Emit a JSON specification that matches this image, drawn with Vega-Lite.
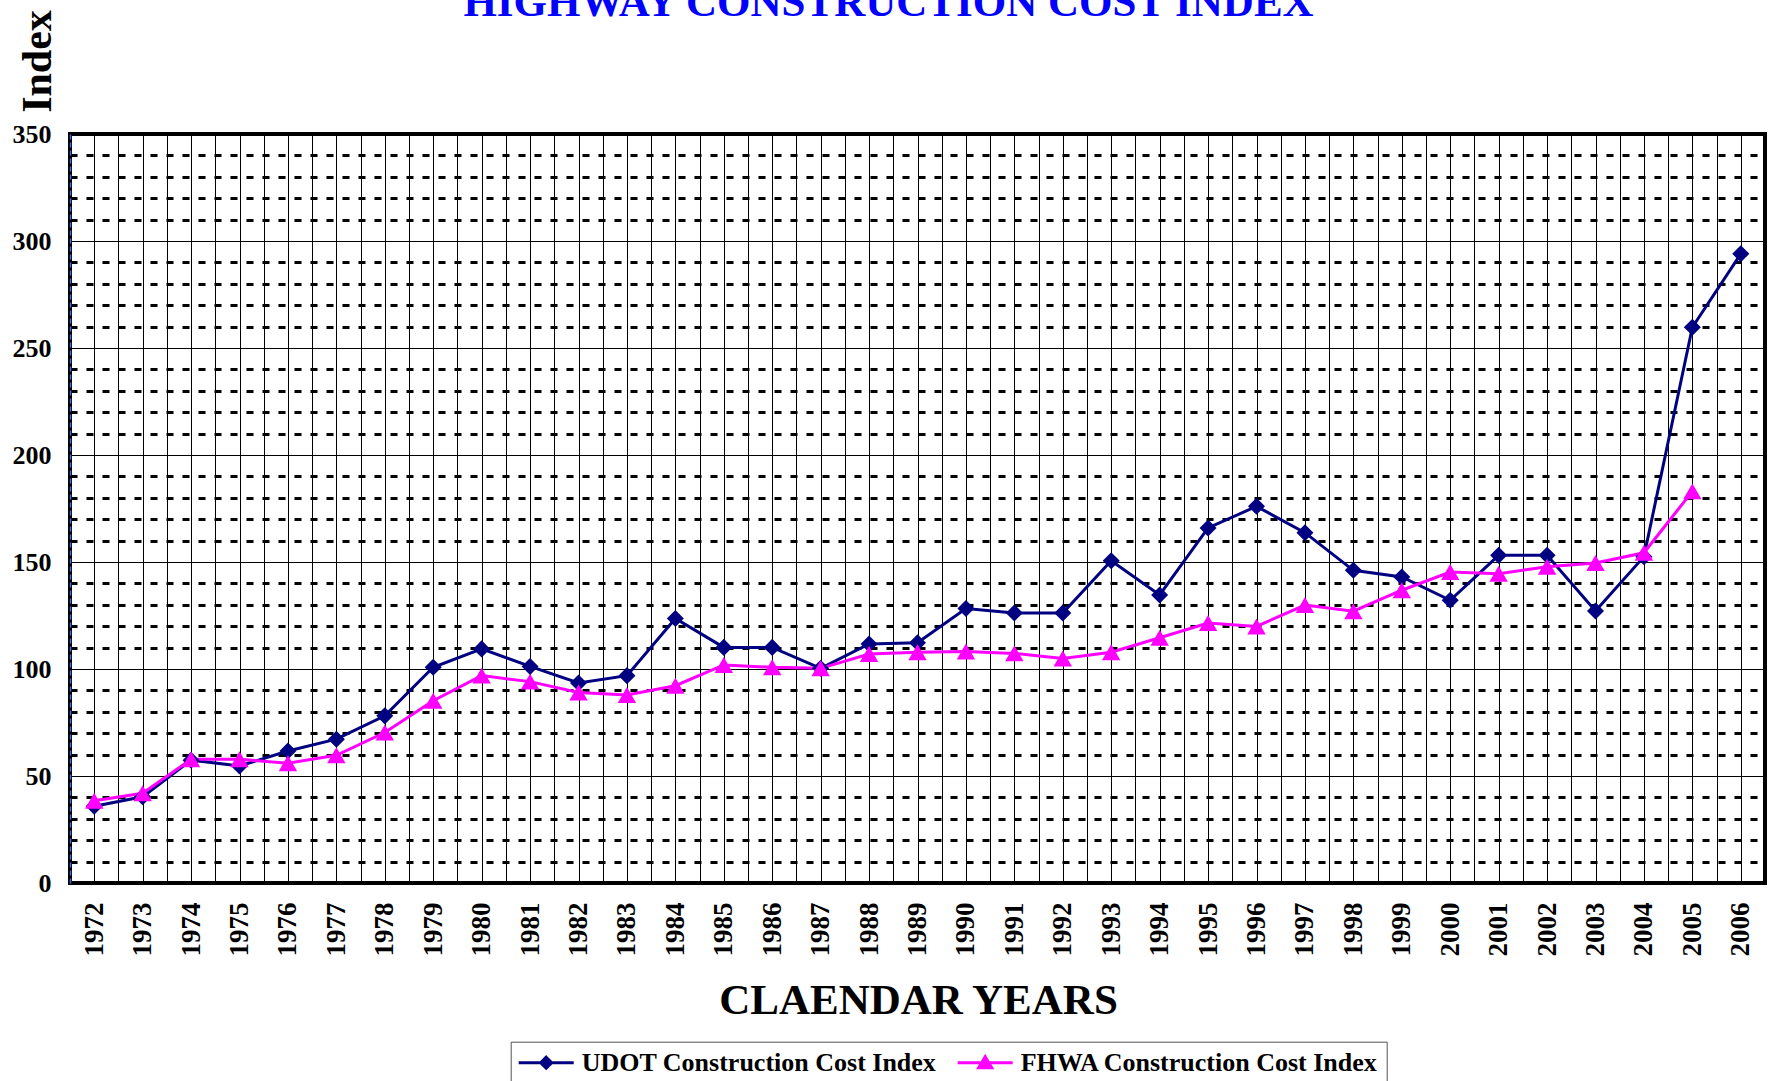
{
  "$schema": "https://vega.github.io/schema/vega-lite/v6.json",
  "width": 1695,
  "height": 749,
  "autosize": {"type": "none"},
  "padding": {"left": 70, "top": 134, "right": 8, "bottom": 198},
  "background": "white",
  "config": {
    "view": {"stroke": "black", "strokeWidth": 4},
    "font": "Liberation Serif",
    "axis": {"labelFont": "Liberation Serif", "titleFont": "Liberation Serif"},
    "legend": {
      "labelFont": "Liberation Serif",
      "orient": "none",
      "legendX": 440.7,
      "legendY": 907.7,
      "direction": "horizontal",
      "columns": 2,
      "labelFontSize": 26,
      "labelFontWeight": "bold",
      "labelColor": "black",
      "labelLimit": 600,
      "labelOffset": 37,
      "symbolSize": 400,
      "symbolStrokeWidth": 3,
      "symbolOpacity": 1,
      "columnPadding": 15,
      "padding": 8,
      "strokeColor": "#555555",
      "fillColor": "white"
    }
  },
  "data": {
    "values": [
      {"year": 1972, "series": "UDOT Construction Cost Index", "value": 35.9},
      {"year": 1973, "series": "UDOT Construction Cost Index", "value": 40.3},
      {"year": 1974, "series": "UDOT Construction Cost Index", "value": 57.4},
      {"year": 1975, "series": "UDOT Construction Cost Index", "value": 54.7},
      {"year": 1976, "series": "UDOT Construction Cost Index", "value": 61.7},
      {"year": 1977, "series": "UDOT Construction Cost Index", "value": 67.2},
      {"year": 1978, "series": "UDOT Construction Cost Index", "value": 78.1},
      {"year": 1979, "series": "UDOT Construction Cost Index", "value": 100.8},
      {"year": 1980, "series": "UDOT Construction Cost Index", "value": 109.4},
      {"year": 1981, "series": "UDOT Construction Cost Index", "value": 101.2},
      {"year": 1982, "series": "UDOT Construction Cost Index", "value": 93.5},
      {"year": 1983, "series": "UDOT Construction Cost Index", "value": 96.9},
      {"year": 1984, "series": "UDOT Construction Cost Index", "value": 123.6},
      {"year": 1985, "series": "UDOT Construction Cost Index", "value": 110.1},
      {"year": 1986, "series": "UDOT Construction Cost Index", "value": 110.1},
      {"year": 1987, "series": "UDOT Construction Cost Index", "value": 100.3},
      {"year": 1988, "series": "UDOT Construction Cost Index", "value": 111.7},
      {"year": 1989, "series": "UDOT Construction Cost Index", "value": 112.3},
      {"year": 1990, "series": "UDOT Construction Cost Index", "value": 128.3},
      {"year": 1991, "series": "UDOT Construction Cost Index", "value": 126.2},
      {"year": 1992, "series": "UDOT Construction Cost Index", "value": 126.2},
      {"year": 1993, "series": "UDOT Construction Cost Index", "value": 150.6},
      {"year": 1994, "series": "UDOT Construction Cost Index", "value": 134.6},
      {"year": 1995, "series": "UDOT Construction Cost Index", "value": 165.9},
      {"year": 1996, "series": "UDOT Construction Cost Index", "value": 176.0},
      {"year": 1997, "series": "UDOT Construction Cost Index", "value": 163.7},
      {"year": 1998, "series": "UDOT Construction Cost Index", "value": 146.1},
      {"year": 1999, "series": "UDOT Construction Cost Index", "value": 143.0},
      {"year": 2000, "series": "UDOT Construction Cost Index", "value": 132.1},
      {"year": 2001, "series": "UDOT Construction Cost Index", "value": 153.1},
      {"year": 2002, "series": "UDOT Construction Cost Index", "value": 153.1},
      {"year": 2003, "series": "UDOT Construction Cost Index", "value": 127.1},
      {"year": 2004, "series": "UDOT Construction Cost Index", "value": 152.5},
      {"year": 2005, "series": "UDOT Construction Cost Index", "value": 259.7},
      {"year": 2006, "series": "UDOT Construction Cost Index", "value": 294.0},
      {"year": 1972, "series": "FHWA Construction Cost Index", "value": 38.4},
      {"year": 1973, "series": "FHWA Construction Cost Index", "value": 41.9},
      {"year": 1974, "series": "FHWA Construction Cost Index", "value": 57.8},
      {"year": 1975, "series": "FHWA Construction Cost Index", "value": 57.8},
      {"year": 1976, "series": "FHWA Construction Cost Index", "value": 56.0},
      {"year": 1977, "series": "FHWA Construction Cost Index", "value": 59.7},
      {"year": 1978, "series": "FHWA Construction Cost Index", "value": 70.3},
      {"year": 1979, "series": "FHWA Construction Cost Index", "value": 85.2},
      {"year": 1980, "series": "FHWA Construction Cost Index", "value": 96.9},
      {"year": 1981, "series": "FHWA Construction Cost Index", "value": 94.1},
      {"year": 1982, "series": "FHWA Construction Cost Index", "value": 89.0},
      {"year": 1983, "series": "FHWA Construction Cost Index", "value": 87.9},
      {"year": 1984, "series": "FHWA Construction Cost Index", "value": 92.2},
      {"year": 1985, "series": "FHWA Construction Cost Index", "value": 101.9},
      {"year": 1986, "series": "FHWA Construction Cost Index", "value": 100.8},
      {"year": 1987, "series": "FHWA Construction Cost Index", "value": 100.3},
      {"year": 1988, "series": "FHWA Construction Cost Index", "value": 107.0},
      {"year": 1989, "series": "FHWA Construction Cost Index", "value": 107.8},
      {"year": 1990, "series": "FHWA Construction Cost Index", "value": 108.2},
      {"year": 1991, "series": "FHWA Construction Cost Index", "value": 107.3},
      {"year": 1992, "series": "FHWA Construction Cost Index", "value": 104.9},
      {"year": 1993, "series": "FHWA Construction Cost Index", "value": 107.8},
      {"year": 1994, "series": "FHWA Construction Cost Index", "value": 114.6},
      {"year": 1995, "series": "FHWA Construction Cost Index", "value": 121.5},
      {"year": 1996, "series": "FHWA Construction Cost Index", "value": 119.9},
      {"year": 1997, "series": "FHWA Construction Cost Index", "value": 129.9},
      {"year": 1998, "series": "FHWA Construction Cost Index", "value": 127.0},
      {"year": 1999, "series": "FHWA Construction Cost Index", "value": 136.8},
      {"year": 2000, "series": "FHWA Construction Cost Index", "value": 145.3},
      {"year": 2001, "series": "FHWA Construction Cost Index", "value": 144.5},
      {"year": 2002, "series": "FHWA Construction Cost Index", "value": 147.8},
      {"year": 2003, "series": "FHWA Construction Cost Index", "value": 149.5},
      {"year": 2004, "series": "FHWA Construction Cost Index", "value": 154.3},
      {"year": 2005, "series": "FHWA Construction Cost Index", "value": 183.0}
    ]
  },
  "encoding": {
    "y": {
      "field": "value",
      "type": "quantitative",
      "scale": {"domain": [0, 350], "nice": false, "zero": true},
      "axis": {
        "values": [0, 10, 20, 30, 40, 50, 60, 70, 80, 90, 100, 110, 120, 130, 140, 150, 160, 170, 180, 190, 200, 210, 220, 230, 240, 250, 260, 270, 280, 290, 300, 310, 320, 330, 340, 350],
        "labelExpr": "datum.value % 50 === 0 ? datum.label : ''",
        "labelFontSize": 26,
        "labelFontWeight": "bold",
        "labelColor": "black",
        "labelPadding": 19,
        "labelBaseline": "middle",
        "labelFlush": false,
        "labelOverlap": false,
        "ticks": false,
        "domain": true,
        "domainColor": "#3d6be0",
        "domainDash": [5, 3],
        "domainWidth": 1.5,
        "grid": true,
        "gridColor": "black",
        "gridOpacity": 1,
        "gridDash": {"condition": {"test": "datum.value % 50 === 0", "value": []}, "value": [7, 9]},
        "gridWidth": {"condition": {"test": "datum.value % 50 === 0", "value": 1}, "value": 3},
        "title": "Index",
        "titleFontSize": 42,
        "titleFontWeight": "bold",
        "titleColor": "black",
        "titleAngle": 270,
        "titleAlign": "center",
        "titleBaseline": "alphabetic",
        "titleX": -20,
        "titleY": -73
      }
    }
  },
  "layer": [
    {
      "transform": [{"filter": "datum.series === 'UDOT Construction Cost Index'"}],
      "mark": {"type": "line", "strokeWidth": 3, "color": "#000080"},
      "encoding": {
        "x": {
          "field": "year",
          "type": "quantitative",
          "scale": {"domain": [1971.5, 2006.5], "nice": false, "zero": false},
          "axis": {
            "orient": "bottom",
            "values": [1971.5, 1972, 1972.5, 1973, 1973.5, 1974, 1974.5, 1975, 1975.5, 1976, 1976.5, 1977, 1977.5, 1978, 1978.5, 1979, 1979.5, 1980, 1980.5, 1981, 1981.5, 1982, 1982.5, 1983, 1983.5, 1984, 1984.5, 1985, 1985.5, 1986, 1986.5, 1987, 1987.5, 1988, 1988.5, 1989, 1989.5, 1990, 1990.5, 1991, 1991.5, 1992, 1992.5, 1993, 1993.5, 1994, 1994.5, 1995, 1995.5, 1996, 1996.5, 1997, 1997.5, 1998, 1998.5, 1999, 1999.5, 2000, 2000.5, 2001, 2001.5, 2002, 2002.5, 2003, 2003.5, 2004, 2004.5, 2005, 2005.5, 2006, 2006.5],
            "labels": false,
            "ticks": false,
            "domain": false,
            "grid": true,
            "gridColor": "black",
            "gridWidth": 1,
            "gridOpacity": 1,
            "title": "CLAENDAR YEARS",
            "titleFontSize": 43,
            "titleFontWeight": "bold",
            "titleColor": "black",
            "titleAlign": "center",
            "titleBaseline": "alphabetic",
            "titleX": 848,
            "titleY": 130
          }
        }
      }
    },
    {
      "transform": [{"filter": "datum.series === 'FHWA Construction Cost Index'"}],
      "mark": {"type": "line", "strokeWidth": 3, "color": "#FF00FF"},
      "encoding": {
        "x": {"field": "year", "type": "quantitative", "axis": null}
      }
    },
    {
      "transform": [{"filter": "datum.series === 'UDOT Construction Cost Index'"}],
      "mark": {"type": "point", "filled": true, "opacity": 1, "shape": "diamond", "size": 290, "color": "#000080"},
      "encoding": {
        "x": {
          "field": "year",
          "type": "quantitative",
          "axis": {
            "orient": "bottom",
            "values": [1972, 1973, 1974, 1975, 1976, 1977, 1978, 1979, 1980, 1981, 1982, 1983, 1984, 1985, 1986, 1987, 1988, 1989, 1990, 1991, 1992, 1993, 1994, 1995, 1996, 1997, 1998, 1999, 2000, 2001, 2002, 2003, 2004, 2005, 2006],
            "format": "d",
            "labelAngle": 270,
            "labelAlign": "right",
            "labelBaseline": "middle",
            "labelFontSize": 27,
            "labelFontWeight": "bold",
            "labelColor": "black",
            "labelPadding": 19,
            "labelOverlap": false,
            "labelFlush": false,
            "ticks": false,
            "domain": false,
            "grid": false,
            "title": null
          }
        }
      }
    },
    {
      "transform": [{"filter": "datum.series === 'FHWA Construction Cost Index'"}],
      "mark": {"type": "point", "filled": true, "opacity": 1, "shape": "triangle-up", "size": 340, "color": "#FF00FF"},
      "encoding": {
        "x": {"field": "year", "type": "quantitative", "axis": null}
      }
    },
    {
      "mark": {"type": "point", "opacity": 0},
      "encoding": {
        "x": {
          "field": "year",
          "type": "quantitative",
          "axis": {
            "orient": "top",
            "labels": false,
            "ticks": false,
            "domain": false,
            "grid": false,
            "title": "HIGHWAY CONSTRUCTION COST INDEX",
            "titleColor": "#0000FF",
            "titleFontSize": 43,
            "titleFontWeight": "bold",
            "titleAlign": "center",
            "titleBaseline": "alphabetic",
            "titleX": 818,
            "titleY": -119
          }
        }
      }
    },
    {
      "mark": {"type": "point", "filled": false, "opacity": 0, "strokeWidth": 3},
      "encoding": {
        "x": {"field": "year", "type": "quantitative", "axis": null},
        "color": {
          "field": "series",
          "type": "nominal",
          "scale": {
            "domain": ["UDOT Construction Cost Index", "FHWA Construction Cost Index"],
            "range": ["#000080", "#FF00FF"]
          },
          "legend": {"title": null}
        },
        "shape": {
          "field": "series",
          "type": "nominal",
          "scale": {
            "domain": ["UDOT Construction Cost Index", "FHWA Construction Cost Index"],
            "range": [
              "M-1.3,0L4.2,0M1.45,-0.55L2,0L1.45,0.55L0.9,0ZM1.45,-0.3L1.75,0L1.45,0.3L1.15,0ZM1.45,-0.08L1.53,0L1.45,0.08L1.37,0Z",
              "M-1.3,0L4.2,0M1.45,-0.6L2.1,0.5L0.8,0.5ZM1.45,-0.225L1.775,0.325L1.125,0.325ZM1.45,0.04L1.55,0.2L1.35,0.2Z"
            ]
          },
          "legend": {"title": null}
        }
      }
    }
  ],
  "resolve": {"axis": {"x": "independent"}}
}
